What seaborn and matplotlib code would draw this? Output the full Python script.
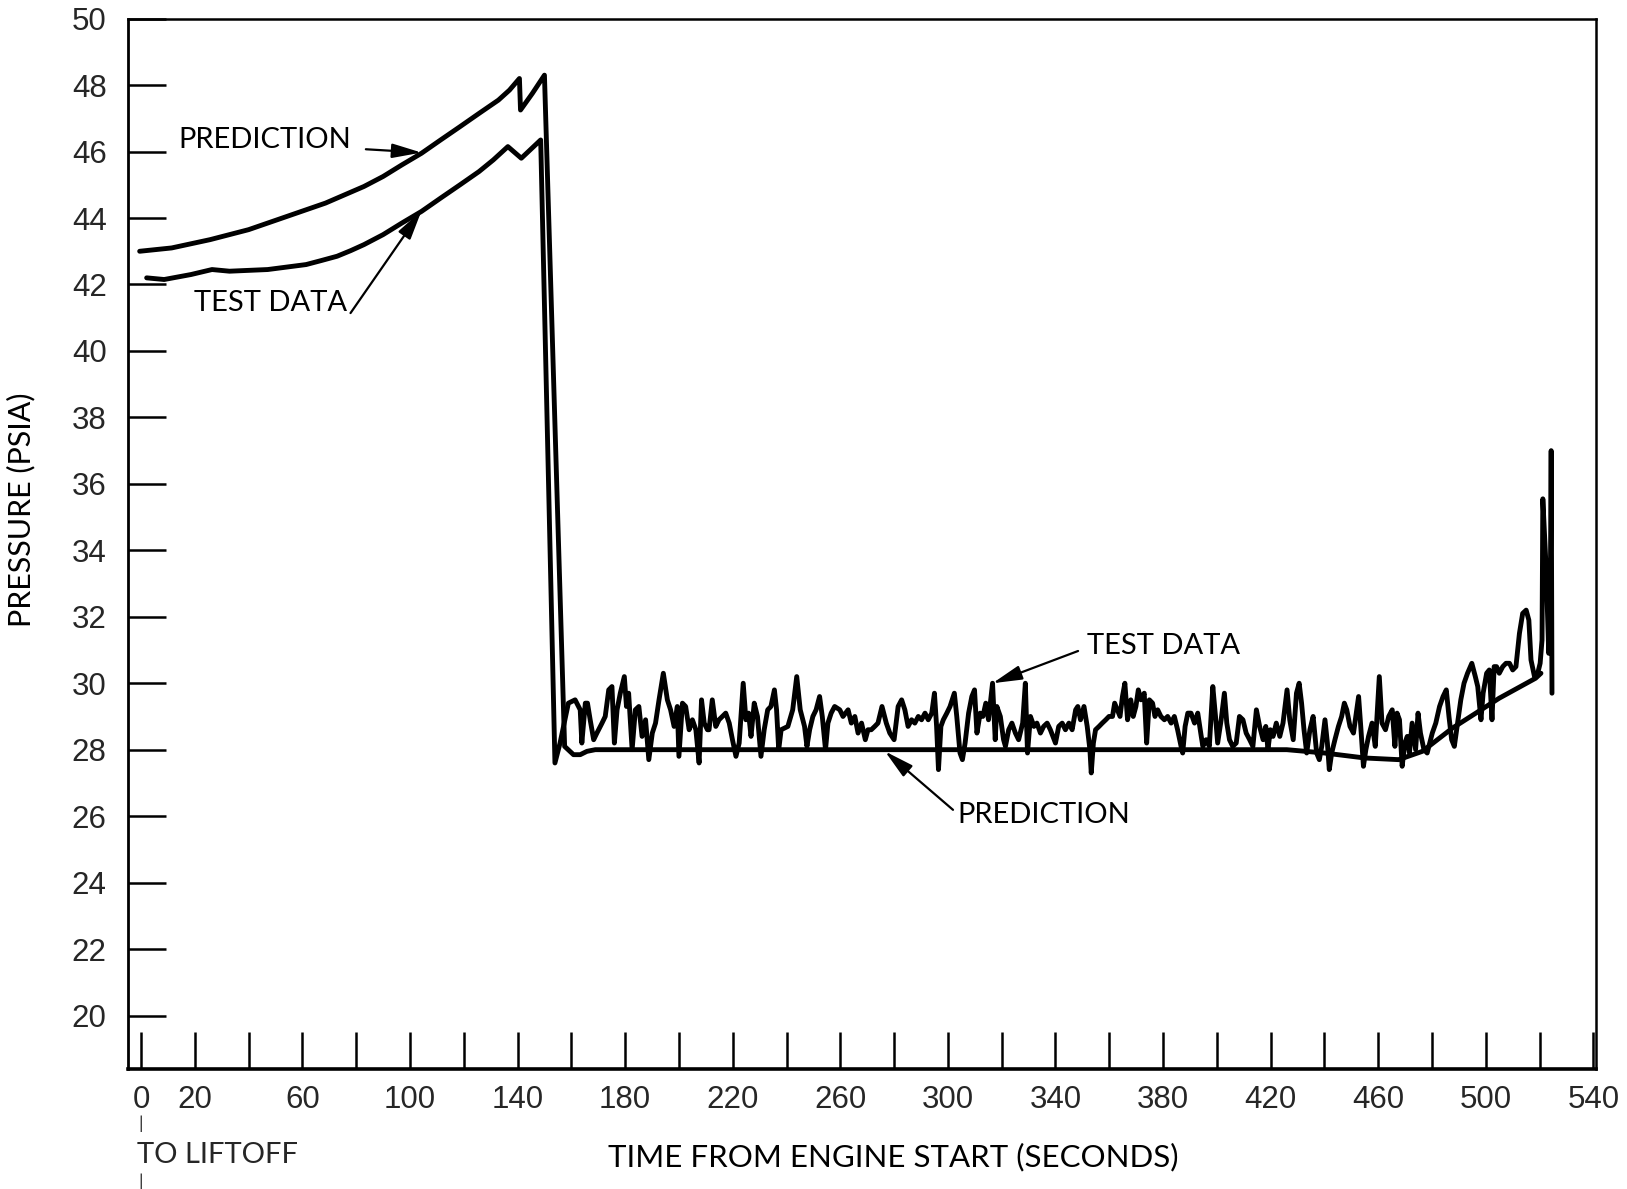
import matplotlib
matplotlib.use("Agg")
import matplotlib.pyplot as plt
import seaborn as sns
import pandas as pd

# ---------------- data ----------------
pred_time = [-0.5, 11.4, 25.7, 40.0, 54.3, 68.6, 82.9, 90.0, 97.0, 104.3, 111.4, 118.6, 125.7,
             132.9, 137.0, 140.7, 141.1, 145.5, 150.0, 157.5, 160.8, 163.3, 165.8, 168.9, 426.0,
             440.0, 455.0, 467.6, 476.4, 487.6, 505.0, 518.5, 520.5]
pred_psia = [43.0, 43.1, 43.35, 43.65, 44.05, 44.45, 44.95, 45.25, 45.6, 45.95, 46.35, 46.75, 47.15,
             47.55, 47.85, 48.2, 47.25, 47.75, 48.3, 28.1, 27.85, 27.85, 27.95, 28.0, 28.0,
             27.9, 27.75, 27.7, 27.95, 28.65, 29.55, 30.15, 30.3]

test_time = [2.1, 8.6, 18.6, 26.4, 32.9, 47.1, 61.4, 67.0, 72.9, 78.0, 82.9, 90.0, 97.0, 104.3,
             111.4, 118.6, 125.7, 131.0, 136.4, 141.4, 148.6, 153.9,
             155.8, 158.9, 161.4, 163.3, 163.9, 165.2, 166.0, 167.0, 168.3, 169.5, 171.4,
             172.6, 173.9, 175.1, 176.0, 177.0, 178.2, 179.7, 180.5, 181.3, 182.6, 183.8,
             185.1, 186.3, 187.6, 188.8, 190.1, 191.3, 192.6, 194.2, 195.7, 196.9, 198.2,
             199.4, 200.0, 201.3, 202.5, 203.8, 205.0, 206.3, 207.5, 208.4, 209.4, 210.6,
             211.2, 212.4, 213.7, 214.9, 217.4, 218.7, 219.9, 221.2, 222.4, 223.9, 224.9,
             225.9, 226.8, 228.0, 229.2, 230.5, 231.7, 233.0, 234.2, 235.5, 236.3, 237.1,
             238.0, 240.5, 242.3, 243.8, 245.1, 246.7, 247.6, 248.6, 249.8, 251.0, 252.3,
             253.3, 254.5, 255.4, 256.6, 257.9, 259.8, 261.0, 262.9, 264.1, 265.4, 266.6,
             267.9, 269.3, 270.3,
             271.5, 272.8, 274.0, 275.5, 277.1, 278.4, 280.0, 281.5, 282.8, 284.0, 285.2,
             286.5, 287.7, 289.0, 290.2, 291.5, 292.7, 294.0, 295.0, 295.8, 296.5, 297.4,
             298.3, 299.6, 300.8, 302.4, 303.3, 304.5, 305.4, 306.4, 307.7, 308.9, 309.9,
             310.8, 312.0, 313.0, 314.1, 315.1, 316.6, 317.6, 318.2, 319.5, 320.7, 321.4,
             322.6, 323.8, 325.1, 326.3, 327.8, 328.8, 329.6, 330.7, 332.0,
             333.1, 334.4, 335.6, 336.9, 338.1, 340.0, 341.2, 342.5, 343.7, 345.0, 346.2,
             347.5, 348.3, 349.3, 350.6, 351.8, 352.8, 353.3, 354.1, 354.9, 356.2, 357.4,
             358.7, 359.9, 361.2, 362.0, 363.0, 364.0, 364.9, 365.8, 366.8, 368.0, 368.9,
             369.9, 370.8, 371.8, 373.0, 373.9, 374.9, 376.1, 377.0, 378.0, 379.2, 380.5,
             381.7, 383.0, 384.2, 385.4, 386.7, 387.3, 388.2, 389.2, 390.4, 391.7, 392.9,
             394.2, 394.8,
             396.0, 397.2, 398.5, 399.5, 400.3, 401.6, 402.8, 403.7, 404.7, 405.9, 407.2,
             408.4, 409.7, 410.9, 412.2, 413.4, 414.7, 415.9, 417.2, 418.2, 419.0, 419.9,
             420.9, 422.1, 423.4, 424.6, 426.1, 427.1, 428.4, 429.6, 430.6, 431.5, 432.4,
             433.4, 434.6, 435.8, 437.1, 438.1, 439.0, 440.2, 441.1, 441.8, 442.7, 443.9,
             445.2, 446.4, 447.4, 448.3, 449.5, 450.8, 452.0, 452.7, 453.5, 454.5, 455.4,
             456.4,
             457.7, 458.9, 460.4, 461.4, 462.7, 463.9, 465.2, 466.2, 467.0, 467.9, 468.9,
             469.9, 470.8, 471.6, 472.6, 473.9, 474.8, 475.7, 477.0, 478.2, 480.1, 481.4,
             482.8, 484.1, 485.3, 486.3, 487.3, 488.3, 489.5, 490.7, 491.9, 493.2, 494.8,
             496.1, 497.0, 498.2, 499.0, 500.3, 501.3, 502.3, 503.1, 504.0, 505.0, 506.3,
             507.5, 508.8, 510.0, 511.2, 512.5, 513.7, 515.0, 516.0, 516.8, 518.1, 519.3,
             520.2, 520.9, 521.2, 522.4, 523.4, 523.9, 524.3, 524.6]
test_psia = [42.2, 42.15, 42.3, 42.45, 42.4, 42.45, 42.6, 42.72, 42.85, 43.02, 43.2, 43.5, 43.85,
             44.2, 44.6, 45.0, 45.4, 45.75, 46.15, 45.8, 46.35, 27.6,
             28.2, 29.4, 29.5, 29.2, 28.2, 29.4, 29.4, 28.9, 28.3, 28.5, 28.8,
             29.0, 29.8, 29.9, 28.2, 29.2, 29.7, 30.2, 29.3, 29.7, 28.0, 29.2,
             29.3, 28.4, 28.9, 27.7, 28.5, 28.8, 29.5, 30.3, 29.5, 29.2, 28.7,
             29.3, 27.8, 29.4, 29.3, 28.6, 28.9, 28.6, 27.6, 29.5, 28.8, 28.6,
             28.6, 29.5, 28.7, 28.9, 29.1, 28.8, 28.3, 27.8, 28.2, 30.0, 28.9,
             29.1, 28.4, 29.4, 29.0, 27.8, 28.6, 29.2, 29.3, 29.8, 29.2, 28.0,
             28.6, 28.7, 29.2, 30.2, 29.2, 28.7, 28.1, 28.6, 29.0, 29.2, 29.6,
             29.0, 28.0, 28.8, 29.1, 29.3, 29.2, 29.0, 29.2, 28.8, 29.0, 28.5,
             28.8, 28.3, 28.6,
             28.6, 28.7, 28.8, 29.3, 28.8, 28.5, 28.3, 29.3, 29.5, 29.2, 28.7,
             28.9, 28.8, 29.0, 28.9, 29.1, 28.9, 29.1, 29.7, 28.7, 27.4, 28.7,
             28.9, 29.1, 29.3, 29.7, 29.0, 27.9, 27.7, 28.2, 29.1, 29.6, 29.8,
             28.5, 29.1, 29.0, 29.4, 28.9, 30.0, 28.3, 29.3, 29.0, 28.3, 28.1,
             28.6, 28.8, 28.5, 28.3, 28.8, 30.0, 27.9, 29.0, 28.7,
             28.8, 28.5, 28.7, 28.8, 28.6, 28.2, 28.7, 28.8, 28.6, 28.8, 28.6,
             29.2, 29.3, 28.9, 29.3, 28.7, 28.0, 27.3, 28.2, 28.6, 28.7, 28.8,
             28.9, 29.0, 29.0, 29.4, 29.2, 29.0, 29.6, 30.0, 28.9, 29.5, 29.0,
             29.3, 29.8, 29.5, 29.7, 28.2, 29.5, 29.4, 29.0, 29.2, 29.0, 28.9,
             29.0, 28.8, 29.0, 28.6, 28.1, 27.9, 28.7, 29.1, 29.1, 28.8, 29.1,
             28.4, 28.1,
             28.3, 28.1, 29.9, 29.0, 28.2, 28.9, 29.7, 28.8, 28.3, 28.1, 28.2,
             29.0, 28.9, 28.5, 28.3, 28.1, 29.2, 28.7, 28.3, 28.7, 28.0, 28.6,
             28.4, 28.8, 28.4, 28.8, 29.8, 28.9, 28.3, 29.7, 30.0, 29.4, 28.6,
             27.9, 28.6, 29.0, 27.9, 27.7, 28.1, 28.9, 28.2, 27.4, 27.9, 28.3,
             28.7, 29.0, 29.4, 29.2, 28.7, 28.5, 29.2, 29.6, 28.7, 27.5, 28.0,
             28.4,
             28.8, 28.1, 30.2, 28.8, 28.6, 29.0, 29.2, 28.1, 29.1, 28.9, 27.5,
             28.2, 28.4, 27.9, 28.8, 28.0, 29.1, 28.5, 28.0, 27.9, 28.5, 28.8,
             29.3, 29.6, 29.8, 29.0, 28.3, 28.1, 28.8, 29.5, 30.0, 30.3, 30.6,
             30.2, 29.9, 28.9, 29.7, 30.3, 30.4, 28.9, 30.5, 30.5, 30.3, 30.5,
             30.6, 30.6, 30.4, 30.5, 31.5, 32.1, 32.2, 31.9, 30.7, 30.2, 30.3,
             30.6, 31.3, 35.55, 33.5, 30.9, 31.5, 37.0, 29.7]

y_ticks = [20, 22, 24, 26, 28, 30, 32, 34, 36, 38, 40, 42, 44, 46, 48, 50]
x_ticks = list(range(0, 541, 20))
x_tick_labels = ["0", "20", "", "60", "", "100", "", "140", "", "180", "", "220", "",
                 "260", "", "300", "", "340", "", "380", "", "420", "", "460", "",
                 "500", "", "540"]

# annotation text / arrows (label, text position, arrow tail, arrow tip)
labels = ["PREDICTION", "TEST DATA", "TEST DATA", "PREDICTION"]
label_xy = [(14.0, 46.35), (19.8, 41.45), (351.6, 31.13), (303.5, 26.03)]
arrow_tail = [(83.6, 46.07), (77.9, 41.14), (348.4, 30.97), (301.9, 26.19)]
arrow_tip = [(104.3, 45.97), (104.3, 44.22), (316.6, 30.0), (276.6, 27.95)]

# ---------------- plotting ----------------
sns.set_theme(style="white")
plt.rcParams["font.family"] = ["Lato", "DejaVu Sans"]
tick_font = ["Liberation Sans", "DejaVu Sans"]
text_font = ["Lato", "DejaVu Sans"]

fig = plt.figure(figsize=(16.27, 11.89), dpi=100)
ax = fig.add_axes([0.0784, 0.1012, 0.9026, 0.8831])

pred_df = pd.DataFrame({"t": pred_time, "p": pred_psia})
test_df = pd.DataFrame({"t": test_time, "p": test_psia})

lw = 3.5
sns.lineplot(data=pred_df, x="t", y="p", ax=ax, color="black", linewidth=lw,
             sort=False, estimator=None)
sns.lineplot(data=test_df, x="t", y="p", ax=ax, color="black", linewidth=lw,
             sort=False, estimator=None)

ax.set_xlim(-5, 541)
ax.set_ylim(18.4, 50)

ax.set_yticks(y_ticks)
ax.set_yticklabels([str(v) for v in y_ticks], fontfamily=tick_font, fontsize=22.5,
                   fontstretch="condensed")
ax.set_xticks(x_ticks)
ax.set_xticklabels(x_tick_labels, fontfamily=tick_font, fontsize=22.5,
                   fontstretch="condensed")
ax.tick_params(axis="y", direction="in", length=27, width=1.8, color="black", pad=15,
               left=True)
ax.tick_params(axis="x", direction="in", length=27, width=1.8, color="black", pad=12,
               bottom=True)

for side, w in [("left", 2.0), ("bottom", 2.6), ("top", 1.8), ("right", 1.8)]:
    ax.spines[side].set_visible(True)
    ax.spines[side].set_color("black")
    ax.spines[side].set_linewidth(w)

ax.set_ylabel("PRESSURE (PSIA)", fontfamily=text_font, fontsize=22, color="black")
ax.yaxis.label.set_va("center")
ax.yaxis.set_label_coords(-0.0726, 0.532)
ax.set_xlabel("TIME FROM ENGINE START (SECONDS)", fontfamily=text_font, fontsize=22.5,
              color="black")
ax.xaxis.label.set_va("center")
ax.xaxis.set_label_coords(0.5215, -0.084)

for lab, (tx, ty), tail, tip in zip(labels, label_xy, arrow_tail, arrow_tip):
    ax.text(tx, ty, lab, fontfamily=text_font, fontsize=21, color="black",
            ha="left", va="center")
    ax.annotate("", xy=tip, xytext=tail,
                arrowprops=dict(arrowstyle="-|>,head_length=0.9,head_width=0.22",
                                color="black", lw=1.6, shrinkA=0, shrinkB=0,
                                mutation_scale=20))

xt = ax.get_xaxis_transform()
ax.text(-1.5, -0.0826, "TO LIFTOFF", transform=xt, fontfamily=text_font, fontsize=21,
        ha="left", va="center", clip_on=False)
ax.text(0, -0.0527, "|", transform=xt, fontfamily=text_font, fontsize=13,
        ha="center", va="center", clip_on=False)
ax.text(0, -0.108, "|", transform=xt, fontfamily=text_font, fontsize=13,
        ha="center", va="center", clip_on=False)

ax.set_facecolor("white")
fig.patch.set_facecolor("white")
fig.savefig("out.png", dpi=100, facecolor="white")
